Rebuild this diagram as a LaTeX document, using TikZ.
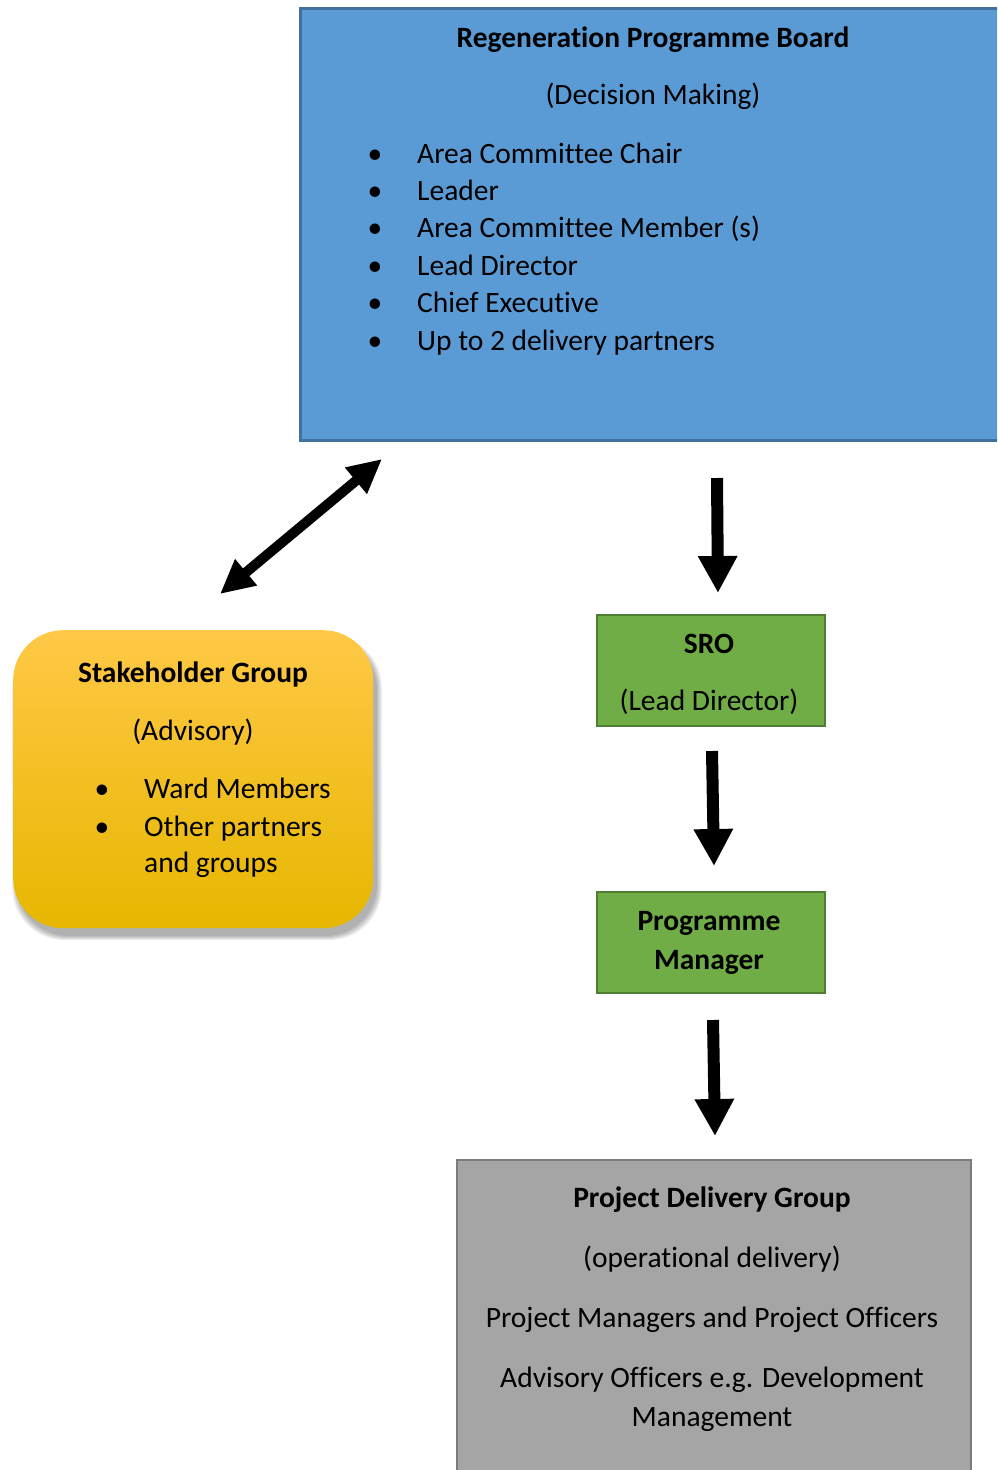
\documentclass[tikz,border=0pt]{standalone}
\usepackage{fontspec}
\setmainfont{Carlito}[Ligatures={NoCommon,NoContextual}]
\usetikzlibrary{arrows.meta}
\definecolor{bluefill}{HTML}{5B9BD5}
\definecolor{blueline}{HTML}{41719C}
\definecolor{greenfill}{HTML}{70AD47}
\definecolor{greenline}{HTML}{507E32}
\definecolor{grayfill}{HTML}{A5A5A5}
\definecolor{grayline}{HTML}{7B7B7B}
\definecolor{goldtop}{HTML}{FFC846}
\definecolor{goldmid}{HTML}{FFC200}
\definecolor{goldbot}{HTML}{E6B700}
\tikzset{
  boxbase/.style={draw, line width=2.5pt, anchor=north west, inner sep=0pt},
  bluebox/.style={boxbase, draw=blueline, fill=bluefill},
  greenbox/.style={boxbase, draw=greenline, fill=greenfill},
  graybox/.style={boxbase, draw=grayline, fill=grayfill},
  txt/.style={anchor=base, inner sep=0pt, font=\fontsize{29.5}{37.5}\selectfont},
  btxt/.style={txt, font=\fontsize{29.5}{37.5}\selectfont\bfseries},
  ltxt/.style={txt, anchor=base west},
  bigarrow/.style={line width=12pt, -{Triangle[width=37pt,length=37pt]}},
  dblarrow/.style={line width=10pt, {Triangle[width=32pt,length=34pt]}-{Triangle[width=32pt,length=34pt]}}
}
\begin{document}
\begin{tikzpicture}[x=1pt,y=-1pt]
\useasboundingbox (0,0) rectangle (997,1470);
\clip (0,0) rectangle (997,1470);
% Board
\node[bluebox, minimum width=705pt, minimum height=432pt] (board) at (299,7) {};
\node[btxt] (boardt) at (653,47) {Regeneration Programme Board};
\node[txt] (boards) at (653,104) {(Decision Making)};
\foreach \y/\t [count=\i] in {163/Area Committee Chair, 200/Leader, 237/Area Committee Member (s), 275/Lead Director, 312/Chief Executive, 350/Up to 2 delivery partners}{
  \node[txt] (bb\i) at (375,\y) {•};
  \node[ltxt] (bt\i) at (417,\y) {\t};
}
% Stakeholder shadow
\foreach \e in {0,2,4,6,8}{
  \fill[black, opacity=0.07, rounded corners=52pt] (13+4-\e*0.6,630+8-\e*0.3) rectangle (373+4+\e*0.6,928+8+\e*0.5);
}
\node[anchor=north west, inner sep=0pt, minimum width=360pt, minimum height=298pt,
  rounded corners=50pt, top color=goldtop, middle color=goldmid, bottom color=goldbot, draw=none] (stake) at (13,630) {};
\node[btxt] (staket) at (193,682) {Stakeholder Group};
\node[txt] (stakes) at (193,740) {(Advisory)};
\node[txt] (sb1) at (102,798) {•};
\node[ltxt] (st1) at (144,798) {Ward Members};
\node[txt] (sb2) at (102,836) {•};
\node[ltxt] (st2) at (144,836) {Other partners};
\node[ltxt] (st3) at (144,872) {and groups};
% SRO
\node[greenbox, minimum width=228pt, minimum height=111pt] (sro) at (595.5,613.5) {};
\node[btxt] (srot) at (709,653) {SRO};
\node[txt] (sros) at (709,710) {(Lead Director)};
% Programme Manager
\node[greenbox, minimum width=228pt, minimum height=101pt] (pm) at (595.5,890.5) {};
\node[btxt] (pmt1) at (709,930) {Programme};
\node[btxt] (pmt2) at (709,969) {Manager};
% Project Delivery Group
\node[graybox, minimum width=514pt, minimum height=330pt] (pdg) at (455.5,1158.5) {};
\node[btxt] (pdgt) at (712,1207) {Project Delivery Group};
\node[txt] (pdg1) at (712,1267) {(operational delivery)};
\node[txt] (pdg2) at (712,1327) {Project Managers and Project Officers};
\node[txt] (pdg3) at (712,1387) {Advisory Officers e.g. Development};
\node[txt] (pdg4) at (712,1426) {Management};
% arrows
\coordinate (a1s) at (717,478);
\coordinate (a1e) at (718,593);
\coordinate (a2s) at (712,751);
\coordinate (a2e) at (714,866);
\coordinate (a3s) at (713,1020);
\coordinate (a3e) at (715,1136);
\coordinate (d1) at (382,459);
\coordinate (d2) at (220,594);
\draw[bigarrow] (a1s) -- (a1e);
\draw[bigarrow] (a2s) -- (a2e);
\draw[bigarrow] (a3s) -- (a3e);
\draw[dblarrow] (d2) -- (d1);
\end{tikzpicture}
\end{document}
